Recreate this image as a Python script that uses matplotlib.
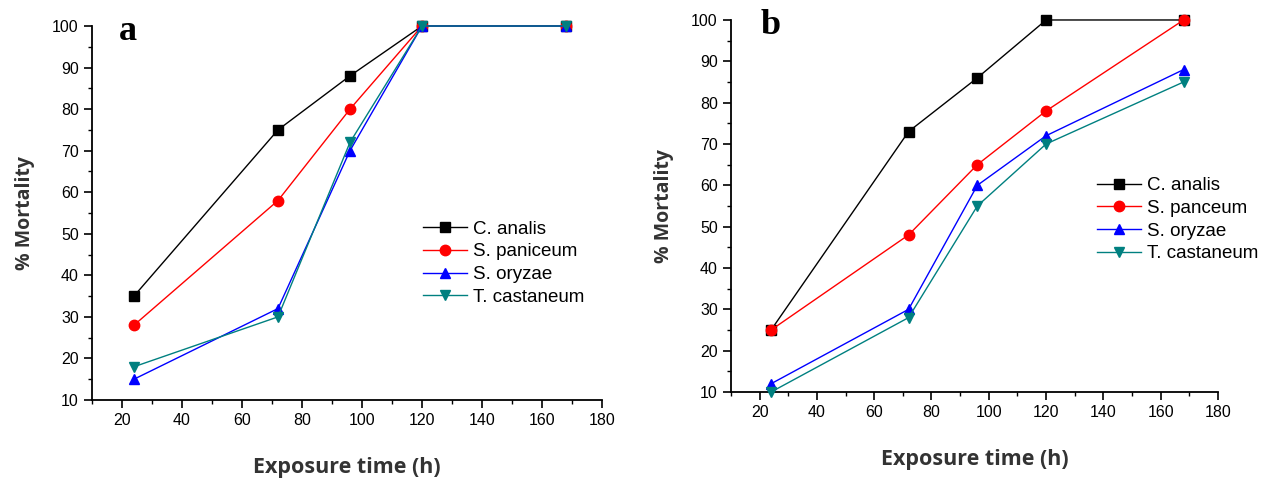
import matplotlib.pyplot as plt
from matplotlib.ticker import MultipleLocator

# exposure times (h)
hours = [24, 72, 96, 120, 168]

# panel a: mortality (%)
a_analis = [35, 75, 88, 100, 100]
a_paniceum = [28, 58, 80, 100, 100]
a_oryzae = [15, 32, 70, 100, 100]
a_castaneum = [18, 30, 72, 100, 100]
a_names = ["C. analis", "S. paniceum", "S. oryzae", "T. castaneum"]

# panel b: mortality (%)
b_analis = [25, 73, 86, 100, 100]
b_panceum = [25, 48, 65, 78, 100]
b_oryzae = [12, 30, 60, 72, 88]
b_castaneum = [10, 28, 55, 70, 85]
b_names = ["C. analis", "S. panceum", "S. oryzae", "T. castaneum"]

colors = ["black", "#ff0000", "#0000ff", "#008080"]
markers = ["s", "o", "^", "v"]

plt.rcParams['font.family'] = ['Liberation Sans', 'DejaVu Sans']

fig = plt.figure(figsize=(12.79, 4.78), dpi=100)
ax_a = fig.add_axes([0.0719, 0.1632, 0.3988, 0.7824])
ax_b = fig.add_axes([0.5715, 0.1799, 0.3808, 0.7783])


def draw_panel(ax, series, names, letter, letter_pos, leg_anchor):
    for vals, name, c, m in zip(series, names, colors, markers):
        ax.plot(hours, vals, color=c, marker=m, markersize=7.5, linewidth=1.0,
                label=name, clip_on=False, zorder=3)
    ax.set_xlim(10, 180)
    ax.set_ylim(10, 100)
    ax.xaxis.set_major_locator(MultipleLocator(20))
    ax.xaxis.set_minor_locator(MultipleLocator(10))
    ax.yaxis.set_major_locator(MultipleLocator(10))
    ax.yaxis.set_minor_locator(MultipleLocator(5))
    ax.spines['top'].set_visible(False)
    ax.spines['right'].set_visible(False)
    ax.spines['left'].set_linewidth(1.3)
    ax.spines['bottom'].set_linewidth(1.3)
    ax.tick_params(which='major', direction='out', length=6, width=1.2, labelsize=11.5)
    ax.tick_params(which='minor', direction='out', length=3, width=1.0)
    ax.set_xticks([20, 40, 60, 80, 100, 120, 140, 160, 180])
    ax.set_xlabel("Exposure time (h)", family='Open Sans', fontweight='bold',
                  fontsize=15.5, color='#333333', labelpad=21)
    ax.set_ylabel("% Mortality", family='Open Sans', fontweight='bold',
                  fontsize=14, color='#333333', labelpad=12)
    ax.text(letter_pos[0], letter_pos[1], letter, transform=ax.transAxes,
            family='Liberation Serif', fontweight='bold', fontsize=26,
            va='center', ha='center')
    ax.legend(loc='upper left', bbox_to_anchor=leg_anchor, frameon=False,
              fontsize=13.5, handlelength=2.35, handletextpad=0.32,
              labelspacing=0.3, borderaxespad=0)


draw_panel(ax_a, [a_analis, a_paniceum, a_oryzae, a_castaneum], a_names,
           "a", (0.07, 0.985), (0.635, 0.50))
draw_panel(ax_b, [b_analis, b_panceum, b_oryzae, b_castaneum], b_names,
           "b", (0.082, 0.985), (0.737, 0.598))

fig.savefig("out.png", dpi=100)
